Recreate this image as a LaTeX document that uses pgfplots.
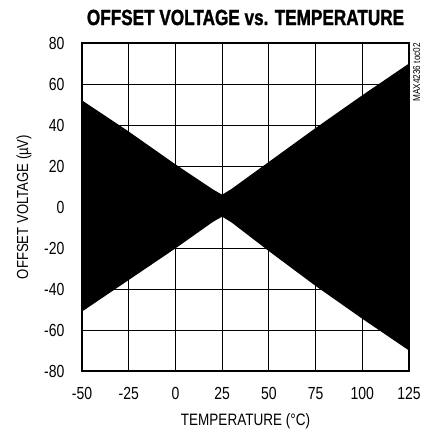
\documentclass[border=0pt]{standalone}
\usepackage{fontspec}
\setmainfont{Liberation Sans}[FakeStretch=0.82]
\newfontfamily\tickfont{Liberation Sans}[FakeStretch=0.8]
\newfontfamily\titlefont{Liberation Sans}[UprightFont={* Bold}, FakeStretch=0.78, FakeBold=1.3]
\usepackage{pgfplots}
\pgfplotsset{compat=1.18}
\begin{document}
\begin{tikzpicture}
\begin{axis}[
  name=ax,
  set layers,
  scale only axis,
  width=327pt, height=328pt,
  xmin=-50, xmax=125, ymin=-80, ymax=80,
  xtick={-50,-25,0,25,50,75,100,125},
  ytick={-80,-60,-40,-20,0,20,40,60,80},
  major tick length=0pt,
  grid=major,
  grid style={black, line width=0.8pt},
  axis line style={black, line width=2.4pt},
  /pgf/number format/assume math mode=true,
  tick label style={font=\tickfont\fontsize{17.5}{19}\selectfont},
  xticklabel style={yshift=-13pt},
  yticklabel style={xshift=-14pt},
  every axis x label/.style={at={(axis description cs:0.5,0)}, anchor=center, yshift=-50pt},
  every axis y label/.style={at={(axis description cs:0,0.5)}, anchor=center, rotate=90, yshift=58pt},
  xlabel={\fontsize{16.5}{18}\selectfont TEMPERATURE (°C)},
  ylabel={\fontsize{16}{18}\selectfont OFFSET VOLTAGE (µV)},
]
\addplot[fill=black, draw=none] coordinates {
  (-50,52) (-25,36.8) (0,20.8) (20,8.6) (25,6) (30,8.8) (50,22) (75,38.5) (100,54.5) (125,70)
  (125,-70) (100,-54.5) (75,-38.5) (50,-21.5) (30,-7.5) (25,-4.7) (20,-7.3) (0,-20.2) (-25,-35.6) (-50,-51)
} -- cycle;
\end{axis}
\draw[black, line width=2.4pt] (ax.south west) rectangle (ax.north east);
\node[anchor=center] at ([yshift=25.5pt]ax.north) {\titlefont\fontsize{22}{24}\selectfont OFFSET VOLTAGE vs. TEMPERATURE};
\node[rotate=90, anchor=north east, inner sep=0pt] at ([xshift=4pt]ax.north east) {\fontsize{10}{11}\selectfont MAX4236 toc02};
\pgfresetboundingbox
\path[use as bounding box] ([xshift=-82pt, yshift=-60pt]ax.south west) rectangle ([xshift=24pt, yshift=43pt]ax.north east);
\end{tikzpicture}
\end{document}
